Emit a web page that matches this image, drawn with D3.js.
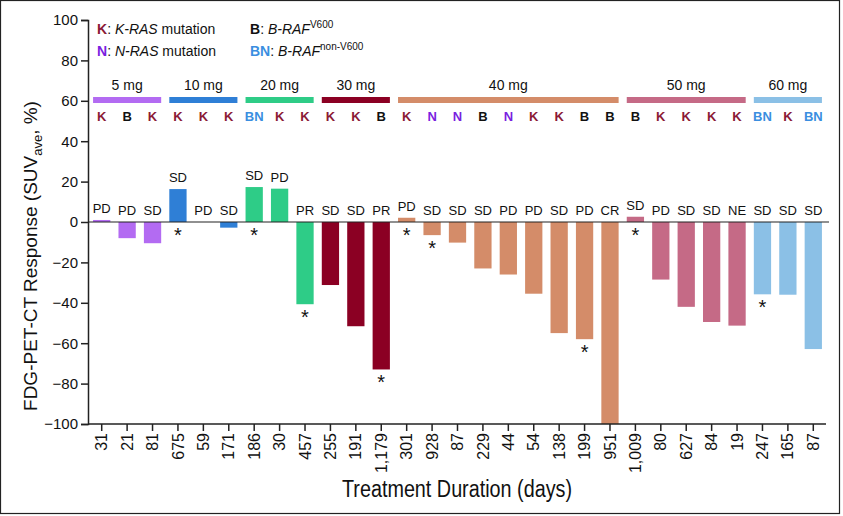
<!DOCTYPE html>
<html>
<head>
<meta charset="utf-8">
<script src="https://cdn.jsdelivr.net/npm/d3@7"></script>
<style>
  body { margin: 0; background: #fff; }
  svg { font-family: "Liberation Sans", Arial, sans-serif; }
</style>
</head>
<body>
<div id="chart"></div>
<script>
// treatment duration (days) per patient, in plotting order
const durations = ["31", "21", "81", "675", "59", "171", "186", "30", "457", "255", "191", "1,179", "301", "928", "87",
    "229", "44", "54", "138", "199", "951", "1,009", "80", "627", "84", "19", "247", "165", "87"];
// best FDG-PET-CT response (%)
const responses = [1, -8, -10.5, 16.3, 0, -2.8, 17.3, 16.5, -40.7, -31.2, -51.6, -73, 2.1, -6.5, -10.2,
    -23, -26, -35.5, -55, -58, -100, 2.6, -28.5, -42, -49.5, -51.3, -35.8, -36, -62.9];
const outcomes = ["PD", "PD", "SD", "SD", "PD", "SD", "SD", "PD", "PR", "SD", "SD", "PR", "PD", "SD", "SD",
    "SD", "PD", "PD", "SD", "PD", "CR", "SD", "PD", "SD", "SD", "NE", "SD", "SD", "SD"];
const mutations = ["K", "B", "K", "K", "K", "K", "BN", "K", "K", "K", "K", "B", "K", "N", "N",
    "B", "N", "K", "K", "B", "B", "B", "K", "K", "K", "K", "BN", "K", "BN"];
const starred = [3, 6, 8, 11, 12, 13, 19, 21, 26];
const doseGroups = ["5 mg", "10 mg", "20 mg", "30 mg", "40 mg", "50 mg", "60 mg"];
const doseCounts = [3, 3, 3, 3, 9, 5, 3];
const yTicks = [100, 80, 60, 40, 20, 0, -20, -40, -60, -80, -100];

const doseColors = ['#b36bf2', '#2f7fd6', '#2ecc87', '#8b0023', '#d48c69', '#c56a86', '#8bc0e6'];
const mutColors = {K: '#8b1a36', B: '#111', N: '#7a1fe0', BN: '#3a8ee0'};

const W = 843, H = 516;
const margin = {top: 20, right: 17, bottom: 92, left: 88};

const svg = d3.select('#chart').append('svg')
    .attr('width', W)
    .attr('height', H);

// outer frame
svg.append('rect')
    .attr('x', 0.5).attr('y', 0.5)
    .attr('width', 839).attr('height', 513)
    .attr('fill', 'none')
    .attr('stroke', '#222')
    .attr('stroke-width', 1.2);

const idx = d3.range(responses.length);
// which dose group each bar belongs to
const groupOf = [];
doseCounts.forEach((c, g) => { for (let i = 0; i < c; i++) groupOf.push(g); });

const x = d3.scaleBand()
    .domain(idx)
    .range([89, 826])
    .paddingInner(0.32)
    .paddingOuter(0.16);
const y = d3.scaleLinear()
    .domain([-100, 100])
    .range([424, 20]);

// bars
svg.selectAll('.bar')
    .data(idx)
    .enter().append('rect')
    .attr('class', 'bar')
    .attr('x', i => x(i))
    .attr('width', x.bandwidth())
    .attr('y', i => y(Math.max(0, responses[i])))
    .attr('height', i => Math.abs(y(responses[i]) - y(0)))
    .attr('fill', i => doseColors[groupOf[i]]);

// zero line
svg.append('line')
    .attr('x1', 88).attr('x2', 829)
    .attr('y1', y(0)).attr('y2', y(0))
    .attr('stroke', '#222')
    .attr('stroke-width', 1.2);

// axes
const yAxis = svg.append('g')
    .attr('transform', `translate(${margin.left},0)`)
    .call(d3.axisLeft(y).tickValues(yTicks).tickSize(7).tickPadding(3));
const xAxis = svg.append('g')
    .attr('transform', `translate(0,${y(-100)})`)
    .call(d3.axisBottom(x).tickFormat(i => durations[i]).tickSize(7).tickSizeOuter(0));
xAxis.select('.domain').attr('d', `M88,0H826`);

[yAxis, xAxis].forEach(a => {
    a.selectAll('path, line').attr('stroke', '#222').attr('stroke-width', 1.5);
});
yAxis.selectAll('text')
    .attr('font-size', 15)
    .attr('font-family', '"Liberation Sans", Arial, sans-serif')
    .attr('fill', '#111');
xAxis.selectAll('text')
    .attr('font-size', 16)
    .attr('font-family', '"Liberation Sans", Arial, sans-serif')
    .attr('fill', '#111')
    .attr('text-anchor', 'end')
    .attr('transform', 'rotate(-90)')
    .attr('x', -9)
    .attr('y', 0)
    .attr('dy', '0.35em');

// response labels (PD / SD / PR ...)
svg.selectAll('.resp')
    .data(idx)
    .enter().append('text')
    .attr('class', 'resp')
    .attr('x', i => x(i) + x.bandwidth() / 2)
    .attr('y', i => y(Math.max(0, responses[i])) - 7)
    .attr('text-anchor', 'middle')
    .attr('font-size', 13)
    .attr('fill', '#111')
    .text(i => outcomes[i]);

// asterisks
svg.selectAll('.star')
    .data(starred)
    .enter().append('text')
    .attr('class', 'star')
    .attr('x', i => x(i) + x.bandwidth() / 2)
    .attr('y', i => y(Math.min(0, responses[i])) + 20)
    .attr('text-anchor', 'middle')
    .attr('font-size', 20)
    .attr('fill', '#111')
    .text('*');

// dose group bands and labels
let start = 0;
doseGroups.forEach((g, k) => {
    const first = start, last = start + doseCounts[k] - 1;
    const x0 = x(first), x1 = x(last) + x.bandwidth();
    svg.append('rect')
        .attr('x', x0).attr('y', 97)
        .attr('width', x1 - x0).attr('height', 6)
        .attr('fill', doseColors[k]);
    svg.append('text')
        .attr('x', (x0 + x1) / 2).attr('y', 90)
        .attr('text-anchor', 'middle')
        .attr('font-size', 14)
        .attr('fill', '#111')
        .text(g);
    start += doseCounts[k];
});

// mutation letters
svg.selectAll('.mut')
    .data(idx)
    .enter().append('text')
    .attr('class', 'mut')
    .attr('x', i => x(i) + x.bandwidth() / 2)
    .attr('y', 121)
    .attr('text-anchor', 'middle')
    .attr('font-size', 13)
    .attr('font-weight', 'bold')
    .attr('fill', i => mutColors[mutations[i]])
    .text(i => mutations[i]);

// legend
function legendItem(xp, yp, key, gene, rest, sup) {
    const t = svg.append('text')
        .attr('x', xp).attr('y', yp)
        .attr('font-size', 14)
        .attr('fill', '#111');
    t.append('tspan').attr('font-weight', 'bold').attr('fill', mutColors[key]).text(key);
    t.append('tspan').text(': ');
    t.append('tspan').attr('font-style', 'italic').text(gene);
    if (rest) t.append('tspan').text(rest);
    if (sup) t.append('tspan').attr('font-size', 10).attr('dy', -6).text(sup);
}
legendItem(97, 34, 'K', 'K-RAS', ' mutation');
legendItem(97, 56, 'N', 'N-RAS', ' mutation');
legendItem(250, 34, 'B', 'B-RAF', null, 'V600');
legendItem(250, 56, 'BN', 'B-RAF', null, 'non-V600');

// axis titles
const yt = svg.append('text')
    .attr('transform', `translate(37,${256}) rotate(-90)`)
    .attr('text-anchor', 'middle')
    .attr('font-size', 19)
    .attr('fill', '#111');
yt.append('tspan').text('FDG-PET-CT Response (SUV');
yt.append('tspan').attr('font-size', 13).attr('dy', 5).text('ave');
yt.append('tspan').attr('dy', -5).text(', %)');

// condensed look for the x title
svg.append('text')
    .attr('transform', 'translate(457,497) scale(0.86,1)')
    .attr('text-anchor', 'middle')
    .attr('font-size', 23)
    .attr('fill', '#111')
    .text('Treatment Duration (days)');
</script>
</body>
</html>
